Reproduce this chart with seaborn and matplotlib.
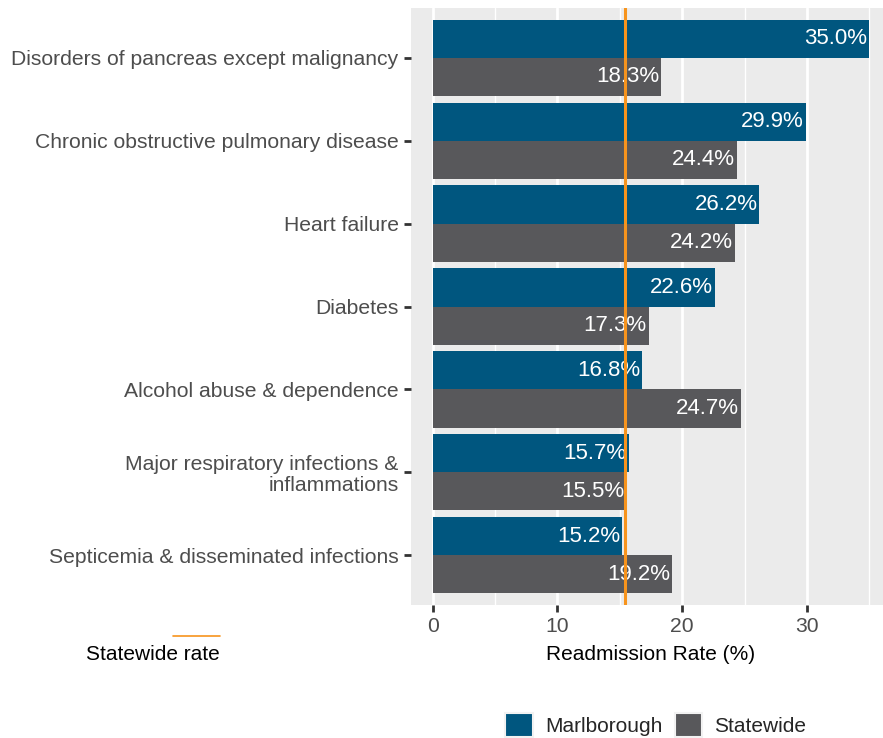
import pandas as pd
import seaborn as sns
import matplotlib.pyplot as plt
from matplotlib.lines import Line2D

# ---- data ----
conditions = [
    "Disorders of pancreas except malignancy",
    "Chronic obstructive pulmonary disease",
    "Heart failure",
    "Diabetes",
    "Alcohol abuse & dependence",
    "Major respiratory infections &\ninflammations",
    "Septicemia & disseminated infections",
]
marlborough = [35.0, 29.9, 26.2, 22.6, 16.8, 15.7, 15.2]
statewide = [18.3, 24.4, 24.2, 17.3, 24.7, 15.5, 19.2]
statewide_rate = 15.4
groups = ["Marlborough", "Statewide"]
colors = ["#00567F", "#58585B"]

df = pd.DataFrame({
    "condition": conditions * 2,
    "group": [groups[0]] * len(conditions) + [groups[1]] * len(conditions),
    "rate": marlborough + statewide,
})

sns.set_theme(style="darkgrid")
plt.rcParams["font.family"] = ["Liberation Sans", "DejaVu Sans"]

W, H = 883, 738
fig = plt.figure(figsize=(W / 100, H / 100), dpi=100)
# panel in pixel terms: x 411..891 (runs past the right edge), y 8..605
ax = fig.add_axes([411 / W, (H - 605) / H, (891 - 411) / W, 597 / H])

sns.barplot(data=df, y="condition", x="rate", hue="group", hue_order=groups,
            palette=colors, orient="h", width=0.92, saturation=1,
            linewidth=0, edgecolor="none", ax=ax)

ax.set_facecolor("#EBEBEB")
for s in ax.spines.values():
    s.set_visible(False)
ax.set_xlim(-1.75, 36.75)
ax.set_ylim(6.6, -0.6)
ax.set_xticks([0, 10, 20, 30])
ax.set_xticks([5, 15, 25, 35], minor=True)
ax.grid(False)
ax.grid(axis="x", which="major", color="white", linewidth=2.0)
ax.grid(axis="x", which="minor", color="white", linewidth=1.0)
ax.set_axisbelow(True)

ax.tick_params(axis="both", which="major", length=5, width=2, color="#333333",
               labelsize=15.2, labelcolor="#4D4D4D", pad=4,
               left=True, bottom=True)
ax.tick_params(axis="x", which="minor", length=0)
for t in ax.get_yticklabels():
    t.set_linespacing(1.1)

ax.set_ylabel("")
ax.set_xlabel("Readmission Rate (%)", fontsize=15, color="black", labelpad=6)

# value labels inside the bar ends
for cont in ax.containers:
    for bar in cont:
        v = bar.get_width()
        ax.annotate(f"{v:.1f}%", (v, bar.get_y() + bar.get_height() / 2),
                    xytext=(-1.5, 0), textcoords="offset points",
                    ha="right", va="center", color="white", fontsize=16)

ax.axvline(statewide_rate, color="#F7941D", linewidth=2.2, zorder=5)

# bottom legend for the two series
sns.move_legend(ax, "center", bbox_to_anchor=(656 / W, 1 - 725 / H),
                bbox_transform=fig.transFigure, ncol=2, title=None,
                frameon=False, fontsize=15, handlelength=1.3, handleheight=1.45,
                handletextpad=0.6, columnspacing=0.6)
for h in ax.get_legend().legend_handles:
    h.set_edgecolor("#F2F2F2")
    h.set_linewidth(1.5)

# "Statewide rate" key
fig.add_artist(Line2D([173 / W, 220 / W], [1 - 636 / H, 1 - 636 / H],
                      transform=fig.transFigure, color="#F7941D", linewidth=1.2))
fig.text(220 / W, 1 - 655 / H, "Statewide rate", ha="right", va="center",
         fontsize=15, color="black")

fig.savefig("out.png", dpi=100)
